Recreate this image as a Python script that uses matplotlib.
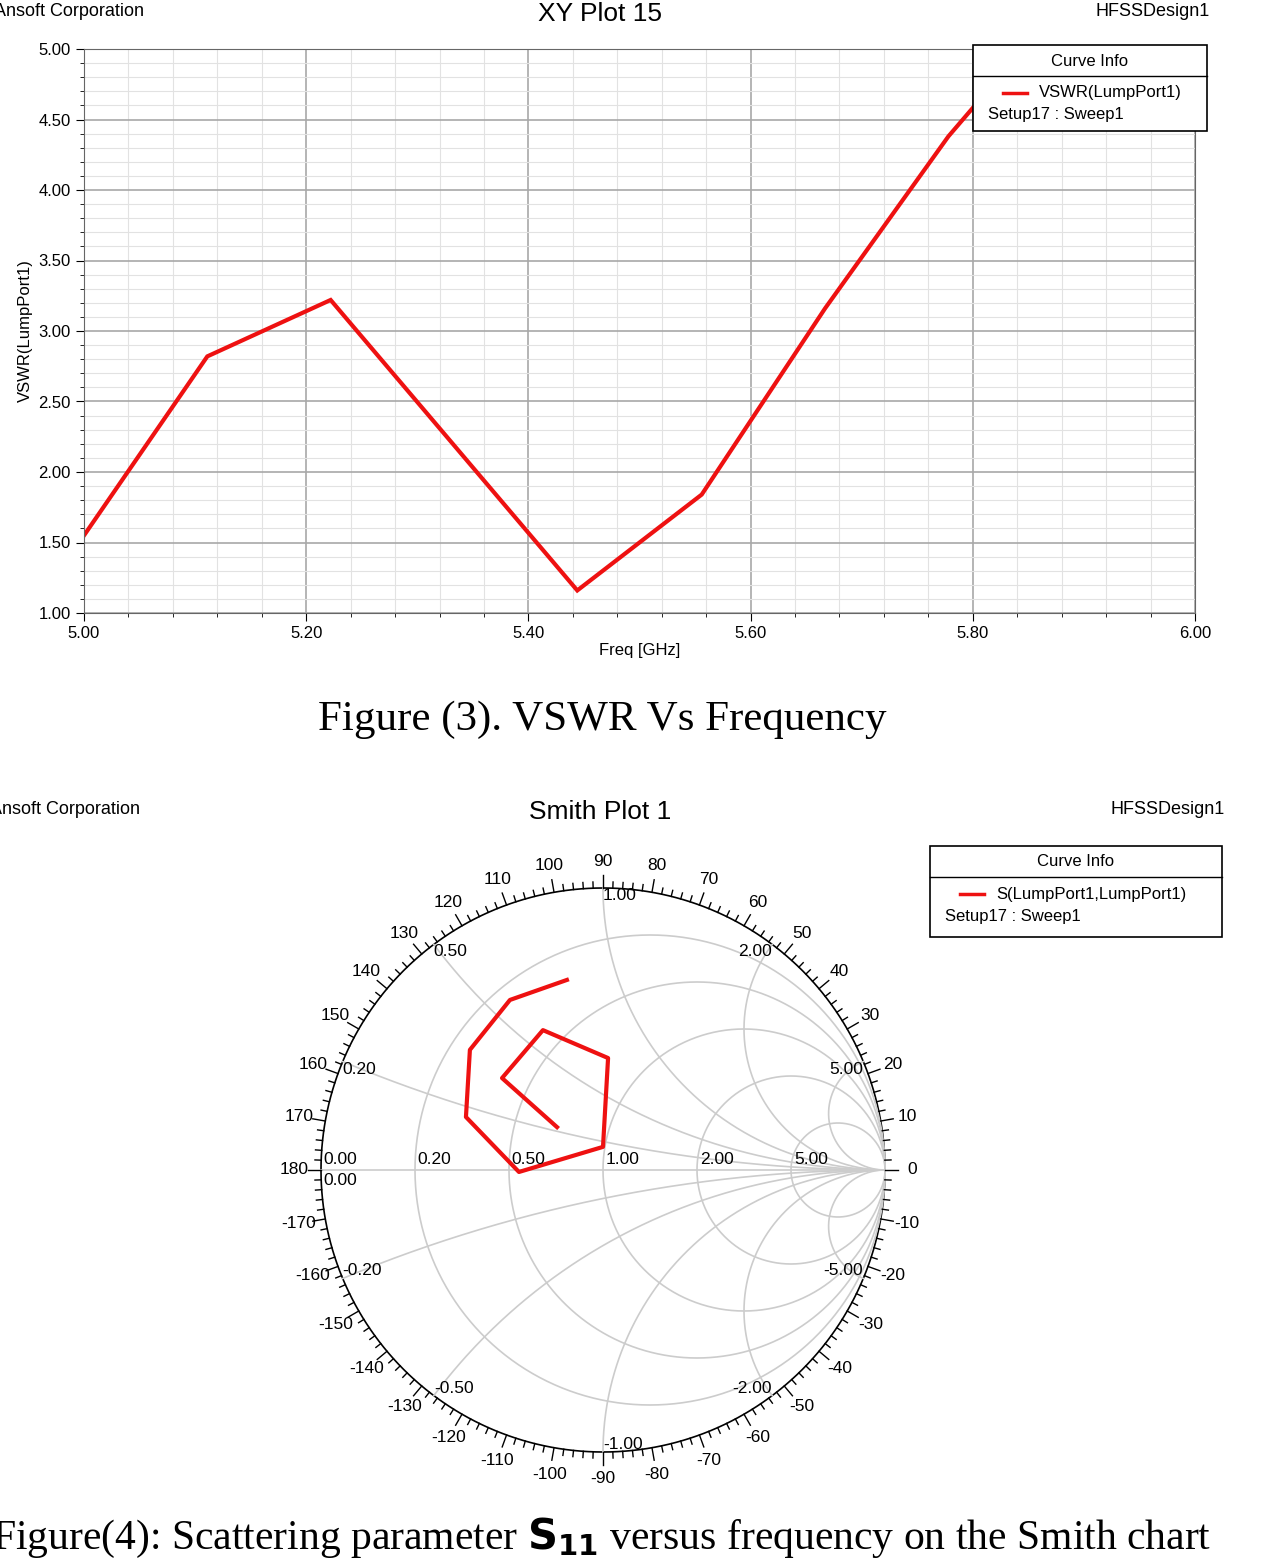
import numpy as np
import matplotlib.pyplot as plt
from matplotlib.patches import Rectangle

plt.rcParams['font.family'] = ['Liberation Sans', 'DejaVu Sans']

freq = [5.0, 5.111, 5.222, 5.333, 5.444, 5.556, 5.667, 5.778, 5.889, 6.0]
vswr = [1.55, 2.82, 3.22, 2.19, 1.16, 1.84, 3.16, 4.38, 5.40, 5.37]

s11_re = [-0.163, -0.358, -0.213, 0.018, 0.0, -0.298, -0.486, -0.472, -0.330, -0.128]
s11_im = [0.152, 0.326, 0.496, 0.397, 0.082, -0.007, 0.188, 0.426, 0.603, 0.674]

r_values = [0.2, 0.5, 1.0, 2.0, 5.0]
x_values = [0.2, 0.5, 1.0, 2.0, 5.0]

W, H = 1271, 1558
fig = plt.figure(figsize=(W / 100, H / 100), dpi=100)
red = '#ee1111'


def fx(px):
    return px / W


def fy(py):
    return 1 - py / H


# ---------------- XY plot ----------------
ax = fig.add_axes([fx(84), fy(613), fx(1195 - 84), (613 - 49) / H])
ax.plot(freq, vswr, color=red, lw=3, solid_joinstyle='miter')
ax.set_xlim(5.0, 6.0)
ax.set_ylim(1.0, 5.0)
ax.set_xticks(np.arange(5.0, 6.01, 0.2))
ax.set_xticks(np.arange(5.0, 6.0, 0.04), minor=True)
ax.set_yticks(np.arange(1.0, 5.01, 0.5))
ax.set_yticks(np.arange(1.0, 5.0, 0.1), minor=True)
ax.set_xticklabels(['%.2f' % v for v in np.arange(5.0, 6.01, 0.2)])
ax.set_yticklabels(['%.2f' % v for v in np.arange(1.0, 5.01, 0.5)])
ax.grid(which='major', color='#a8a8a8', lw=1.2)
ax.grid(which='minor', color='#e2e2e2', lw=0.8)
ax.tick_params(labelsize=12, direction='out', length=6)
ax.tick_params(which='minor', length=3)
for s in ax.spines.values():
    s.set_color('#666666')
ax.set_xlabel('Freq [GHz]', fontsize=12, labelpad=1)
ax.set_ylabel('VSWR(LumpPort1)', fontsize=12, labelpad=4)

fig.text(fx(-6), fy(11), 'Ansoft Corporation', fontsize=13, va='center')
fig.text(fx(600), fy(14), 'XY Plot 15', fontsize=19, ha='center', va='center')
fig.text(fx(1210), fy(11), 'HFSSDesign1', fontsize=13, ha='right', va='center')


def legend_box(x0, y0, x1, y1, label):
    fig.patches.append(Rectangle((fx(x0), fy(y1)), fx(x1 - x0), (y1 - y0) / H,
                                 transform=fig.transFigure, fc='white', ec='black', lw=1.2))
    fig.lines.append(plt.Line2D([fx(x0), fx(x1)], [fy(y0 + 31)] * 2,
                                transform=fig.transFigure, color='black', lw=1))
    fig.text(fx((x0 + x1) / 2), fy(y0 + 16), 'Curve Info', fontsize=12, ha='center', va='center')
    fig.lines.append(plt.Line2D([fx(x0 + 30), fx(x0 + 54)], [fy(y0 + 48)] * 2,
                                transform=fig.transFigure, color=red, lw=2.5))
    fig.text(fx(x0 + 66), fy(y0 + 48), label, fontsize=12, va='center')
    fig.text(fx(x0 + 15), fy(y0 + 70), 'Setup17 : Sweep1', fontsize=12, va='center')


legend_box(973, 45, 1207, 131, 'VSWR(LumpPort1)')

fig.text(fx(602), fy(720), 'Figure (3). VSWR Vs Frequency', fontsize=31,
         family='Liberation Serif', ha='center', va='center')

# ---------------- Smith chart ----------------
cx, cy, R = 603, 1170, 282
ext = 330
sax = fig.add_axes([fx(cx - ext), fy(cy + ext), fx(2 * ext), 2 * ext / H])
lim = ext / R
sax.set_xlim(-lim, lim)
sax.set_ylim(-lim, lim)
sax.set_aspect('equal')
sax.axis('off')

grid_c = '#cccccc'
t = np.linspace(0, 2 * np.pi, 721)
sax.plot(np.cos(t), np.sin(t), color='black', lw=1.2)
sax.plot([-1, 1], [0, 0], color=grid_c, lw=1.2)
for r in r_values:
    c, rad = r / (1 + r), 1 / (1 + r)
    sax.plot(c + rad * np.cos(t), rad * np.sin(t), color=grid_c, lw=1.2)
rr = np.concatenate([np.linspace(0, 5, 400), np.logspace(0.7, 4, 300)])
for x in x_values:
    for sgn in (1, -1):
        g = (rr + 1j * sgn * x - 1) / (rr + 1j * sgn * x + 1)
        sax.plot(g.real, g.imag, color=grid_c, lw=1.2)

# angle ring
for deg in range(-180, 180, 2):
    a = np.radians(deg)
    L = 0.045 if deg % 10 == 0 else 0.022
    sax.plot([np.cos(a), (1 + L) * np.cos(a)], [np.sin(a), (1 + L) * np.sin(a)],
             color='black', lw=1)
for deg in range(-170, 181, 10):
    a = np.radians(deg)
    sax.text(1.095 * np.cos(a), 1.095 * np.sin(a), str(deg), fontsize=12.5,
             ha='center', va='center')

# grid labels
for r in [0.0] + r_values:
    g = (r - 1) / (r + 1)
    sax.text(g + 0.01, 0.01, '%.2f' % r, fontsize=12.5, ha='left', va='bottom')
sax.text(-0.99, -0.01, '0.00', fontsize=12.5, ha='left', va='top')
for x in x_values:
    for sgn in (1, -1):
        g = (1j * sgn * x - 1) / (1j * sgn * x + 1)
        ha = 'right' if g.real > 0.01 else 'left'
        va = 'top' if sgn > 0 else 'bottom'
        sax.text(g.real, g.imag, '%.2f' % (sgn * x), fontsize=12.5, ha=ha, va=va)

sax.plot(s11_re, s11_im, color=red, lw=3)

fig.text(fx(-10), fy(809), 'Ansoft Corporation', fontsize=13, va='center')
fig.text(fx(600), fy(812), 'Smith Plot 1', fontsize=19, ha='center', va='center')
fig.text(fx(1225), fy(809), 'HFSSDesign1', fontsize=13, ha='right', va='center')
legend_box(930, 846, 1222, 937, 'S(LumpPort1,LumpPort1)')

fig.text(fx(-8), fy(1538), 'Figure(4): Scattering parameter $\\mathbf{S_{11}}$ versus frequency on the Smith chart',
         fontsize=30, family='Liberation Serif', ha='left', va='center')

fig.savefig('out.png', dpi=100)
